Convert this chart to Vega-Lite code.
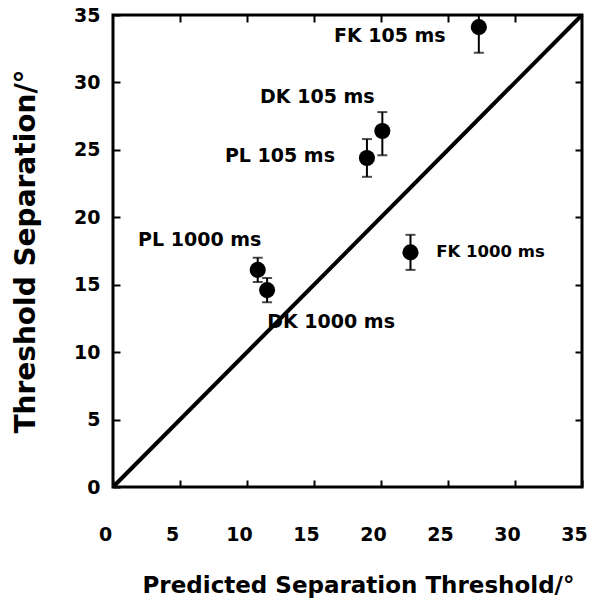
{
  "$schema": "https://vega.github.io/schema/vega-lite/v6.json",
  "width": 469,
  "height": 472,
  "autosize": {"type": "none"},
  "padding": {"left": 113, "top": 15, "right": 12, "bottom": 119},
  "background": "white",
  "config": {
    "view": {"stroke": "black", "strokeWidth": 3},
    "font": "DejaVu Sans",
    "axis": {"grid": false, "domain": false, "tickColor": "black", "tickWidth": 2, "tickSize": -7, "labelColor": "black", "titleColor": "black"}
  },
  "datasets": {
    "pts": [
      {"label": "FK 105 ms", "pred": 27.3, "obs": 34.1, "lo": 32.2, "hi": 36.0},
      {"label": "DK 105 ms", "pred": 20.1, "obs": 26.4, "lo": 24.6, "hi": 27.8},
      {"label": "PL 105 ms", "pred": 18.95, "obs": 24.4, "lo": 23.0, "hi": 25.8},
      {"label": "PL 1000 ms", "pred": 10.8, "obs": 16.1, "lo": 15.2, "hi": 17.0},
      {"label": "DK 1000 ms", "pred": 11.5, "obs": 14.6, "lo": 13.7, "hi": 15.5},
      {"label": "FK 1000 ms", "pred": 22.2, "obs": 17.4, "lo": 16.1, "hi": 18.7}
    ],
    "diag": [
      {"pred": 0, "obs": 0},
      {"pred": 35, "obs": 35}
    ]
  },
  "resolve": {"axis": {"x": "independent", "y": "independent"}},
  "layer": [
    {
      "data": {"name": "diag"},
      "mark": {"type": "line", "color": "black", "strokeWidth": 4},
      "encoding": {
        "x": {"field": "pred", "type": "quantitative", "scale": {"domain": [0, 35], "nice": false},
          "axis": {"orient": "top", "values": [5, 10, 15, 20, 25, 30], "labels": false, "title": null}},
        "y": {"field": "obs", "type": "quantitative", "scale": {"domain": [0, 35], "nice": false},
          "axis": {"orient": "right", "values": [5, 10, 15, 20, 25, 30], "labels": false, "title": null}}
      }
    },
    {
      "data": {"name": "pts"},
      "mark": {"type": "rule", "color": "black", "strokeWidth": 2, "clip": true},
      "encoding": {
        "x": {"field": "pred", "type": "quantitative",
          "axis": {"orient": "bottom", "values": [0, 5, 10, 15, 20, 25, 30, 35], "labelFontSize": 19, "labelFontWeight": "bold", "labelPadding": 45, "labelFlush": false, "labelOffset": -8,
            "title": "Predicted Separation Threshold/°", "titleFontSize": 23, "titleFontWeight": "bold", "titleY": 98, "titleX": 245, "titleBaseline": "middle"}},
        "y": {"field": "lo", "type": "quantitative",
          "axis": {"orient": "left", "values": [0, 5, 10, 15, 20, 25, 30, 35], "labelFontSize": 19, "labelFontWeight": "bold", "labelPadding": 20, "labelFlush": false,
            "title": "Threshold Separation/°", "titleFontSize": 28, "titleFontWeight": "bold", "titleX": -87, "titleY": 236, "titleBaseline": "middle", "titleAngle": -90}},
        "y2": {"field": "hi"}
      }
    },
    {
      "data": {"name": "pts"},
      "mark": {"type": "tick", "color": "black", "orient": "horizontal", "size": 10, "thickness": 2, "clip": true},
      "encoding": {
        "x": {"field": "pred", "type": "quantitative", "axis": null},
        "y": {"field": "lo", "type": "quantitative", "axis": null}
      }
    },
    {
      "data": {"name": "pts"},
      "mark": {"type": "tick", "color": "black", "orient": "horizontal", "size": 10, "thickness": 2, "clip": true},
      "encoding": {
        "x": {"field": "pred", "type": "quantitative", "axis": null},
        "y": {"field": "hi", "type": "quantitative", "axis": null}
      }
    },
    {
      "data": {"name": "pts"},
      "mark": {"type": "circle", "color": "black", "opacity": 1, "size": 260},
      "encoding": {
        "x": {"field": "pred", "type": "quantitative", "axis": null},
        "y": {"field": "obs", "type": "quantitative", "axis": null}
      }
    },
    {
      "data": {"name": "pts"},
      "transform": [{"filter": "datum.label == 'FK 105 ms'"}],
      "mark": {"type": "text", "fontSize": 19, "fontWeight": "bold", "color": "black", "dx": -89, "dy": 9},
      "encoding": {"x": {"field": "pred", "type": "quantitative", "axis": null}, "y": {"field": "obs", "type": "quantitative", "axis": null}, "text": {"field": "label"}}
    },
    {
      "data": {"name": "pts"},
      "transform": [{"filter": "datum.label == 'DK 105 ms'"}],
      "mark": {"type": "text", "fontSize": 19, "fontWeight": "bold", "color": "black", "dx": -65, "dy": -34},
      "encoding": {"x": {"field": "pred", "type": "quantitative", "axis": null}, "y": {"field": "obs", "type": "quantitative", "axis": null}, "text": {"field": "label"}}
    },
    {
      "data": {"name": "pts"},
      "transform": [{"filter": "datum.label == 'PL 105 ms'"}],
      "mark": {"type": "text", "fontSize": 19, "fontWeight": "bold", "color": "black", "dx": -87, "dy": -2},
      "encoding": {"x": {"field": "pred", "type": "quantitative", "axis": null}, "y": {"field": "obs", "type": "quantitative", "axis": null}, "text": {"field": "label"}}
    },
    {
      "data": {"name": "pts"},
      "transform": [{"filter": "datum.label == 'PL 1000 ms'"}],
      "mark": {"type": "text", "fontSize": 19, "fontWeight": "bold", "color": "black", "dx": -58, "dy": -30},
      "encoding": {"x": {"field": "pred", "type": "quantitative", "axis": null}, "y": {"field": "obs", "type": "quantitative", "axis": null}, "text": {"field": "label"}}
    },
    {
      "data": {"name": "pts"},
      "transform": [{"filter": "datum.label == 'DK 1000 ms'"}],
      "mark": {"type": "text", "fontSize": 19, "fontWeight": "bold", "color": "black", "dx": 64, "dy": 32},
      "encoding": {"x": {"field": "pred", "type": "quantitative", "axis": null}, "y": {"field": "obs", "type": "quantitative", "axis": null}, "text": {"field": "label"}}
    },
    {
      "data": {"name": "pts"},
      "transform": [{"filter": "datum.label == 'FK 1000 ms'"}],
      "mark": {"type": "text", "fontSize": 16.5, "fontWeight": "bold", "color": "black", "dx": 80, "dy": 0},
      "encoding": {"x": {"field": "pred", "type": "quantitative", "axis": null}, "y": {"field": "obs", "type": "quantitative", "axis": null}, "text": {"field": "label"}}
    }
  ]
}
